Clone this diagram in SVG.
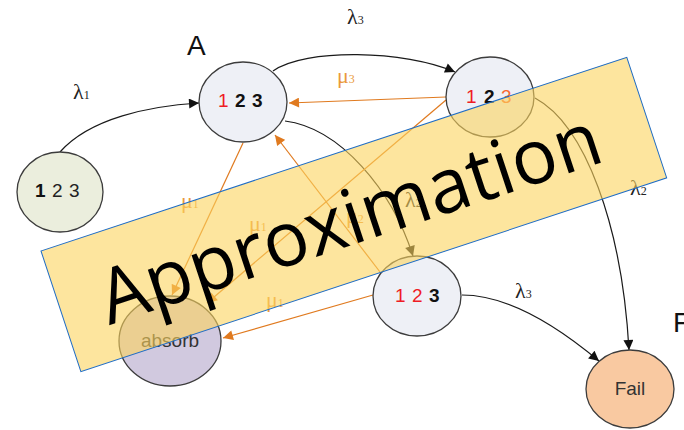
<svg xmlns="http://www.w3.org/2000/svg" width="684" height="430" viewBox="0 0 684 430">
<style>
.node{stroke:#3c3c3c;stroke-width:1.3}
.lbl{font-family:"Liberation Sans",Arial,sans-serif;font-size:19px}
.b{font-weight:bold;fill:#111}
.r{fill:#ee1c25}
.k{fill:#222}
.g{fill:#333}
.blk{fill:none;stroke:#1a1a1a;stroke-width:1.2}
.org{fill:none;stroke:#e07a1f;stroke-width:1.2}
.gl{font-family:"Liberation Serif","Times New Roman",serif;font-size:22px}
.gk{fill:#222}
.go{fill:#ea9a3c}
.sub{font-size:12px}
.big{font-family:"Liberation Sans",Arial,sans-serif;font-size:28px;fill:#111}
</style>
<defs>
<marker id="ab" viewBox="0 0 10 10" refX="10" refY="5" markerWidth="11" markerHeight="10" orient="auto" markerUnits="userSpaceOnUse"><path d="M0,0 L10,5 L0,10 z" fill="#111"/></marker>
<marker id="ao" viewBox="0 0 10 10" refX="10" refY="5" markerWidth="11" markerHeight="10" orient="auto" markerUnits="userSpaceOnUse"><path d="M0,0 L10,5 L0,10 z" fill="#e07a1f"/></marker>
</defs>

<g id="connectors">
<path class="blk" marker-end="url(#ab)" d="M60,152 C90,118 150,106 199,103"/>
<path class="blk" marker-end="url(#ab)" d="M273,71 C305,48 405,50 455,72"/>
<path class="blk" marker-end="url(#ab)" d="M285,121 C340,128 392,190 413,256"/>
<path class="blk" marker-end="url(#ab)" d="M535,98 C585,125 622,225 629,350"/>
<path class="blk" marker-end="url(#ab)" d="M462,295 C510,295 562,330 599,361"/>
<path class="org" marker-end="url(#ao)" d="M446,97 L289,103"/>
<path class="org" marker-end="url(#ao)" d="M446,100 L207,303"/>
<path class="org" marker-end="url(#ao)" d="M243,143 L172,295"/>
<path class="org" marker-end="url(#ao)" d="M380,272 L275,135"/>
<path class="org" marker-end="url(#ao)" d="M373,295 L223,338"/>
<text class="gl gk" x="73" y="99">λ<tspan class="sub">1</tspan></text>
<text class="gl gk" x="347" y="24">λ<tspan class="sub">3</tspan></text>
<text class="gl go" x="337" y="83">μ<tspan class="sub">3</tspan></text>
<text class="gl go" x="181" y="208">μ<tspan class="sub">1</tspan></text>
<text class="gl go" x="249" y="231">μ<tspan class="sub">1</tspan></text>
<text class="gl go" x="266" y="307">μ<tspan class="sub">1</tspan></text>
<text class="gl go" x="346" y="223">μ<tspan class="sub">2</tspan></text>
<text class="gl gk" x="405" y="207">λ<tspan class="sub">2</tspan></text>
<text class="gl gk" x="630" y="195">λ<tspan class="sub">2</tspan></text>
<text class="gl gk" x="515" y="298">λ<tspan class="sub">3</tspan></text>
</g>

<g id="start">
<ellipse class="node" cx="60" cy="192" rx="43" ry="40" fill="#ebeedd"/>
<text class="lbl" y="197"><tspan class="b" x="35">1</tspan><tspan class="k" x="52">2</tspan><tspan class="k" x="69">3</tspan></text>
</g>
<g id="stateA">
<ellipse class="node" cx="243" cy="102" rx="44" ry="40" fill="#eef0f6"/>
<text class="lbl" y="107"><tspan class="r" x="218">1</tspan><tspan class="b" x="235">2</tspan><tspan class="b" x="252">3</tspan></text>
</g>
<g id="stateTR">
<ellipse class="node" cx="490" cy="97" rx="44" ry="40" fill="#eef0f6"/>
<text class="lbl" y="103"><tspan class="r" x="466">1</tspan><tspan class="b" x="484">2</tspan><tspan x="501" fill="#f86a30">3</tspan></text>
</g>
<g id="stateB">
<ellipse class="node" cx="417" cy="296" rx="44" ry="40" fill="#eef0f6"/>
<text class="lbl" y="302"><tspan class="r" x="395">1</tspan><tspan class="r" x="412">2</tspan><tspan class="b" x="429">3</tspan></text>
</g>
<g id="absorb">
<ellipse class="node" cx="170" cy="341" rx="51" ry="45" fill="#d1c9df"/>
<text class="lbl g" x="170" y="347" text-anchor="middle" font-size="20">absorb</text>
</g>
<g id="fail">
<ellipse class="node" cx="630" cy="389" rx="44" ry="39" fill="#f9c9a1"/>
<text class="lbl g" x="630" y="395" text-anchor="middle" font-size="20">Fail</text>
</g>
<text class="big" x="187" y="55">A</text>
<text class="big" x="673" y="332">F</text>

<g id="banner">
<rect x="0" y="0" width="617" height="127" transform="translate(41,251) rotate(-18.3)" fill="#fcd35e" fill-opacity="0.6" stroke="#1f6cc4" stroke-width="1"/>
<text transform="translate(358,243) rotate(-18.3)" text-anchor="middle" font-family="'Open Sans','Noto Sans',sans-serif" font-size="76" fill="#000" textLength="524" lengthAdjust="spacingAndGlyphs">Approximation</text>
</g>
</svg>
